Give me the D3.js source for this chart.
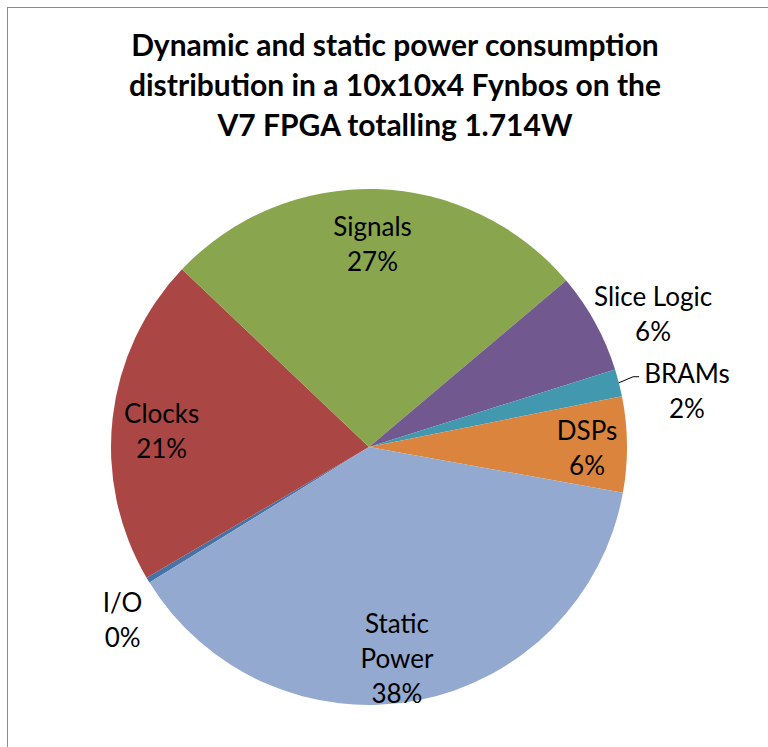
<!DOCTYPE html>
<html>
<head>
<meta charset="utf-8">
<script src="https://cdn.jsdelivr.net/npm/d3@7"></script>
<style>
	body { margin: 0; background: #fff; }
	svg text { font-family: Lato, "Open Sans", sans-serif; fill: #000; }
</style>
</head>
<body>
<div id="chart"></div>
<script>
// data, in the order Excel stores the series (I/O first)
var categories = ["I/O", "Clocks", "Signals", "Slice Logic", "BRAMs", "DSPs", "Static Power"];
var percents = [0.35, 20.55, 26.75, 6.3, 1.7, 6.0, 38.35];
var colors = ["#4572A7", "#AA4643", "#89A54E", "#71588F", "#4198AF", "#DB843D", "#93A9CF"];
var titleLines = ["Dynamic and static power consumption", "distribution in a 10x10x4 Fynbos on the", "V7 FPGA totalling 1.714W"];

var width = 768, height = 747;
var cx = 369, cy = 447, radius = 258;
var startDeg = 238.3;

// label layout: angle shift from slice middle (deg), radius factor, line breaks
var labelLayout = {
	"I/O":          {da: -4.0, k: 1.167, lines: ["I/O"]},
	"Clocks":       {da: -2.1, k: 0.806, lines: ["Clocks"]},
	"Signals":      {da: -0.7, k: 0.79,  lines: ["Signals"]},
	"Slice Logic":  {da: 3.6,  k: 1.217, lines: ["Slice Logic"]},
	"BRAMs":        {da: 4.3,  k: 1.252, lines: ["BRAMs"], leader: true},
	"DSPs":         {da: 0.7,  k: 0.845, lines: ["DSPs"]},
	"Static Power": {da: 3.2,  k: 0.826, lines: ["Static", "Power"]}
};

var svg = d3.select("#chart").append("svg")
	.attr("width", width)
	.attr("height", height);

// chart frame
svg.append("rect")
	.attr("x", 7.5).attr("y", 7.5)
	.attr("width", width + 20).attr("height", height + 20)
	.attr("fill", "white")
	.attr("stroke", "#8c8c8c")
	.attr("stroke-width", 1);

var title = svg.append("text")
	.attr("text-anchor", "middle")
	.attr("font-weight", "bold")
	.attr("font-size", 30);
title.selectAll("tspan").data(titleLines).enter()
	.append("tspan")
	.attr("x", 395)
	.attr("y", function(d, i){ return 56 + i * 40; })
	.text(function(d){ return d; });

var data = categories.map(function(c, i){
	return {name: c, value: percents[i], color: colors[i]};
});
var total = d3.sum(percents);

var start = startDeg * Math.PI / 180;
var pie = d3.pie()
	.sort(null)
	.value(function(d){ return d.value; })
	.startAngle(start)
	.endAngle(start + 2 * Math.PI);

var arc = d3.arc().innerRadius(0).outerRadius(radius);

var g = svg.append("g").attr("transform", "translate(" + cx + "," + cy + ")");
var arcs = pie(data);

g.selectAll("path").data(arcs).enter()
	.append("path")
	.attr("d", arc)
	.attr("fill", function(d){ return d.data.color; });

function polar(a, r){
	return [r * Math.sin(a), -r * Math.cos(a)];
}

var lineStep = 35;
var labels = g.selectAll("g.label").data(arcs).enter()
	.append("g").attr("class", "label");

labels.each(function(d){
	var lay = labelLayout[d.data.name];
	var mid = (d.startAngle + d.endAngle) / 2;
	var p = polar(mid + lay.da * Math.PI / 180, radius * lay.k);
	var lines = lay.lines.concat([Math.round(d.data.value / total * 100) + "%"]);
	var y0 = p[1] - (lines.length - 1) * lineStep / 2;
	var t = d3.select(this).append("text")
		.attr("text-anchor", "middle")
		.attr("font-size", 26)
		.attr("dominant-baseline", "central");
	t.selectAll("tspan").data(lines).enter()
		.append("tspan")
		.attr("x", p[0])
		.attr("y", function(l, i){ return y0 + i * lineStep; })
		.text(function(l){ return l; });
	if (lay.leader) {
		var w = t.select("tspan").node().getComputedTextLength();
		var e = polar(mid, radius);
		var x2 = p[0] - w / 2 - 5, y2 = y0 + 4;
		d3.select(this).append("polyline")
			.attr("points", [e, [x2 - 6, y2], [x2, y2]].map(function(q){ return q.join(","); }).join(" "))
			.attr("fill", "none")
			.attr("stroke", "#000")
			.attr("stroke-width", 1);
	}
});
</script>
</body>
</html>
